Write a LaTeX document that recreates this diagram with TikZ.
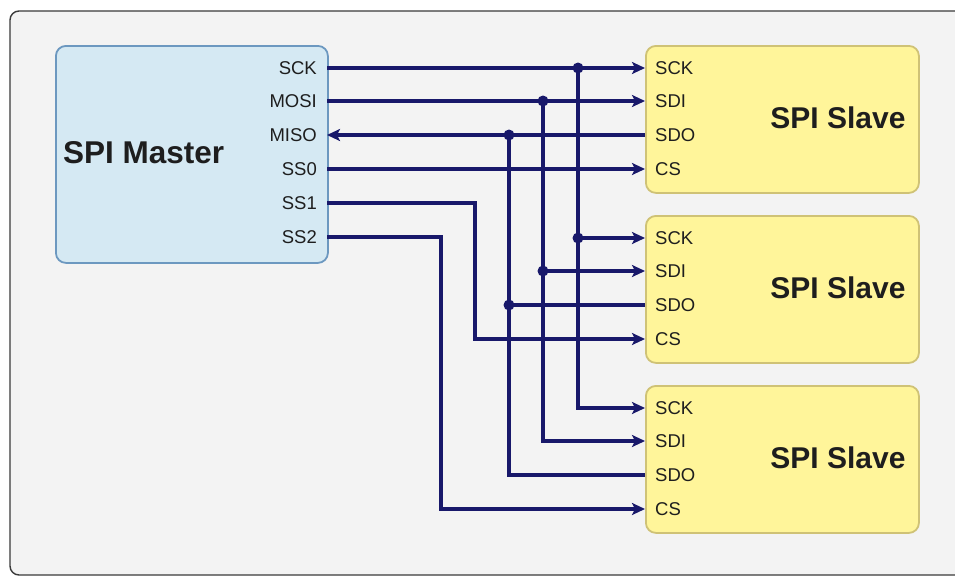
\documentclass[tikz,border=0pt]{standalone}
\usepackage{fontspec}
\setmainfont{Liberation Sans}
\usetikzlibrary{arrows.meta}
\definecolor{bgc}{HTML}{F3F3F3}
\definecolor{framec}{HTML}{3A3A3A}
\definecolor{mfill}{HTML}{D5E9F3}
\definecolor{mdraw}{HTML}{6C98C0}
\definecolor{sfill}{HTML}{FFF59A}
\definecolor{sdraw}{HTML}{CFC276}
\definecolor{wire}{HTML}{18186A}
\definecolor{txt}{HTML}{1E1E1E}
\tikzset{
  masterbox/.style={draw=mdraw, fill=mfill, line width=1.8pt, rounded corners=10pt},
  slavebox/.style={draw=sdraw, fill=sfill, line width=1.8pt, rounded corners=10pt},
  pinlabel/.style={font=\fontsize{18.5}{18.5}\selectfont, text=txt, inner sep=0pt},
  titlelabel/.style={font=\bfseries\fontsize{30}{30}\selectfont, text=txt, inner sep=0pt},
  wireline/.style={draw=wire, line width=3.2pt},
  arr/.style={wireline, -{Stealth[length=13pt, width=12pt, inset=3pt]}},
  junction/.style={circle, fill=wire, inner sep=0pt, minimum size=11pt},
}
\begin{document}
\begin{tikzpicture}[x=1pt, y=-1pt]
\useasboundingbox (0,0) rectangle (955,576);
\fill[white] (0,0) rectangle (955,576);
\begin{scope}
\clip (0,0) rectangle (955,576);
\draw[framec, fill=bgc, line width=1.4pt, rounded corners=9pt] (10,11) rectangle (975,575);
\end{scope}

% master
\node[masterbox, minimum width=272pt, minimum height=217pt, anchor=north west] (master) at (55,45) {};
\node[titlelabel, anchor=west, font=\bfseries\fontsize{31.5}{31.5}\selectfont] (mtitle) at (63,153) {SPI Master};
\foreach \n/\y in {SCK/68, MOSI/101, MISO/135, SS0/169, SS1/203, SS2/237}{
  \node[pinlabel, anchor=east] (ml\n) at (317,\y) {\n};
  \coordinate (m\n) at (327,\y);
}

% slaves
\foreach \i/\t in {1/45, 2/215, 3/385}{
  \node[slavebox, minimum width=273pt, minimum height=147pt, anchor=north west] (slave\i) at (645,\t) {};
  \node[titlelabel] (stitle\i) at (838,\t+73) {SPI Slave};
  \foreach \n/\d in {SCK/23, SDI/56, SDO/90, CS/124}{
    \node[pinlabel, anchor=west] (sl\i\n) at (655,\t+\d) {\n};
    \coordinate (s\i\n) at (645,\t+\d);
  }
}

% junction columns
\coordinate (jSCK) at (578,68);
\coordinate (jMOSI) at (543,101);
\coordinate (jMISO) at (509,135);
\coordinate (jSS1) at (475,203);
\coordinate (jSS2) at (441,237);

% SCK
\draw[arr] (mSCK) -- (s1SCK);
\draw[arr] (jSCK) |- (s2SCK);
\draw[arr] (jSCK) |- (s3SCK);
% MOSI
\draw[arr] (mMOSI) -- (s1SDI);
\draw[arr] (jMOSI) |- (s2SDI);
\draw[arr] (jMOSI) |- (s3SDI);
% MISO
\draw[arr] (s1SDO) -- (mMISO);
\draw[wireline] (s2SDO) -| (jMISO);
\draw[wireline] (s3SDO) -| (jMISO);
% SS
\draw[arr] (mSS0) -- (s1CS);
\draw[arr] (mSS1) -- (jSS1) |- (s2CS);
\draw[arr] (mSS2) -- (jSS2) |- (s3CS);

% dots
\node[junction] (d1) at (jSCK) {};
\node[junction] (d2) at (jSCK |- s2SCK) {};
\node[junction] (d3) at (jMOSI) {};
\node[junction] (d4) at (jMOSI |- s2SDI) {};
\node[junction] (d5) at (jMISO) {};
\node[junction] (d6) at (jMISO |- s2SDO) {};
\end{tikzpicture}
\end{document}
